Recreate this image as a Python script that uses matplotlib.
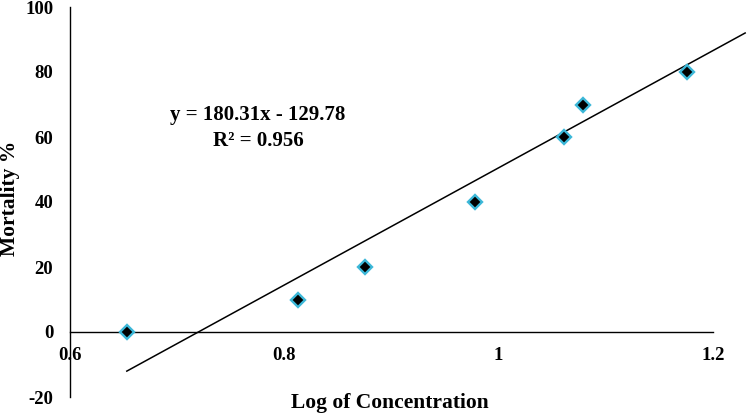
import numpy as np
import matplotlib.pyplot as plt

# ============================================================
# DATA
# ============================================================
log_conc = [0.653, 0.813, 0.875, 0.978, 1.061, 1.079, 1.176]
mortality = [0, 10, 20, 40, 60, 70, 80]

slope = 180.31
intercept = -129.78
r2 = 0.956
trend_x = [0.653, 1.23]  # trendline span (with a small forward forecast)

x_ticks = [0.6, 0.8, 1.0, 1.2]
x_tick_labels = ["0.6", "0.8", "1", "1.2"]
y_ticks = [-20, 0, 20, 40, 60, 80, 100]

# ============================================================
# PLOT
# ============================================================
plt.rcParams['font.family'] = ['Liberation Serif', 'DejaVu Serif']
plt.rcParams['font.weight'] = 'bold'
plt.rcParams['axes.unicode_minus'] = False

fig = plt.figure(figsize=(7.47, 4.13), dpi=100)
ax = fig.add_axes([70 / 747, 16 / 413, 643 / 747, 390 / 413])

tx = np.array(trend_x)
ax.plot(tx, slope * tx + intercept, color="black", linewidth=1.1, clip_on=False, zorder=2)
ax.plot(log_conc, mortality, linestyle="none", marker="D", markersize=7.5,
        markerfacecolor="black", markeredgecolor="#3cb8d8", markeredgewidth=1.7,
        clip_on=False, zorder=3)

ax.set_xlim(0.6, 1.2)
ax.set_ylim(-20, 100)

# spines: y axis at left, x axis through zero
ax.spines['top'].set_visible(False)
ax.spines['right'].set_visible(False)
ax.spines['bottom'].set_position(('data', 0))
ax.spines['left'].set_linewidth(1.0)
ax.spines['bottom'].set_linewidth(1.0)

ax.set_xticks(x_ticks)
ax.set_xticklabels(x_tick_labels)
ax.set_yticks(y_ticks)
ax.tick_params(axis='both', length=0, labelsize=13.5)
ax.tick_params(axis='y', pad=12)
ax.tick_params(axis='x', pad=11)
for lbl in ax.get_xticklabels() + ax.get_yticklabels():
    lbl.set_fontweight('bold')

fig.text(390 / 747, 1 - 403 / 413, "Log of Concentration", ha="center", va="center",
         fontsize=15.5, fontweight="bold")
fig.text(10 / 747, 1 - 198 / 413, "Mortality %", ha="center", va="center", rotation=90,
         fontsize=15.5, fontweight="bold")

eq = f"y = {slope:.2f}x - {abs(intercept):.2f}\nR² = {r2}"
fig.text(258 / 747, 1 - 128 / 413, eq, ha="center", va="center", fontsize=15,
         fontweight="bold", linespacing=1.35)

fig.savefig("out.png", dpi=100)
